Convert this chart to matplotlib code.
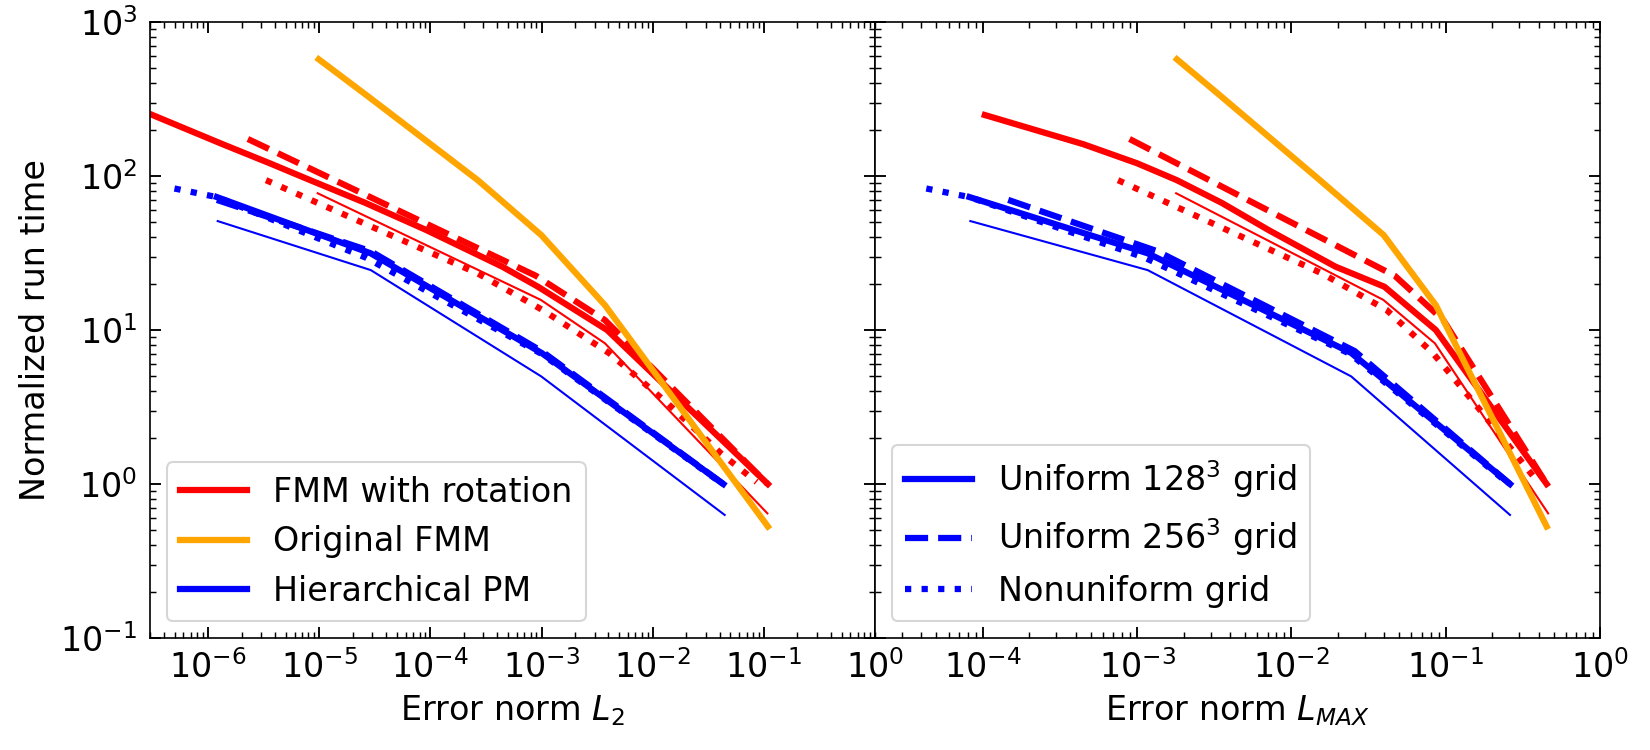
import matplotlib
matplotlib.use("Agg")
import matplotlib.pyplot as plt

plt.rcParams['font.family'] = ['DejaVu Sans']
plt.rcParams['font.size'] = 16

# ---------------- data ----------------
# FMM with rotation, uniform 128^3 (thick solid red)
fmm_rot_u128_y = [249, 161, 121, 94, 67, 44.6, 25.8, 19.1, 10.0, 1.0]
fmm_rot_u128_l2 = [3.16e-7, 1.35e-6, 3.59e-6, 8.3e-6, 2.59e-5, 9.18e-5, 4.43e-4, 9.3e-4, 3.89e-3, 0.1087]
fmm_rot_u128_lmax = [1.03e-4, 4.48e-4, 1.0e-3, 1.81e-3, 3.53e-3, 7.11e-3, 1.93e-2, 4.01e-2, 8.63e-2, 0.451]

# FMM with rotation, uniform 256^3 (thick dashed red)
fmm_rot_u256_y = [174, 22.5, 11.6, 1.0]
fmm_rot_u256_l2 = [2.28e-6, 8.9e-4, 3.72e-3, 0.108]
fmm_rot_u256_lmax = [8.93e-4, 4.68e-2, 9.64e-2, 0.451]

# FMM with rotation, nonuniform grid (thick dotted red)
fmm_rot_nu_y = [94, 23.3, 13.5, 7.06, 3.34, 1.58, 1.03]
fmm_rot_nu_l2 = [3.32e-6, 2.67e-4, 1.02e-3, 4.08e-3, 1.36e-2, 4.12e-2, 8.61e-2]
fmm_rot_nu_lmax = [7.52e-4, 1.58e-2, 4.14e-2, 8.28e-2, 0.154, 0.281, 0.396]

# FMM with rotation, thin red
fmm_rot_thin_y = [77.3, 15.7, 8.2, 0.645]
fmm_rot_thin_l2 = [9.68e-6, 9.84e-4, 3.72e-3, 0.1076]
fmm_rot_thin_lmax = [1.79e-3, 3.94e-2, 8.51e-2, 0.461]

# Original FMM (orange)
fmm_orig_y = [573, 327, 94, 41.4, 14.5, 0.53]
fmm_orig_l2 = [9.89e-6, 2.78e-5, 2.67e-4, 9.93e-4, 3.72e-3, 0.1087]
fmm_orig_lmax = [1.81e-3, 3.53e-3, 1.53e-2, 3.96e-2, 8.63e-2, 0.451]

# Hierarchical PM, thin blue
hpm_thin_y = [51, 24.5, 5.0, 0.63]
hpm_thin_l2 = [1.22e-6, 2.91e-5, 9.93e-4, 4.44e-2]
hpm_thin_lmax = [8.3e-5, 1.17e-3, 2.44e-2, 0.261]

# Hierarchical PM, uniform 128^3 (thick solid blue)
hpm_u128_y = [73, 31.5, 7.1, 1.0]
hpm_u128_l2 = [1.2e-6, 2.9e-5, 1.0e-3, 4.32e-2]
hpm_u128_lmax = [8.2e-5, 1.17e-3, 2.44e-2, 0.261]

# Hierarchical PM, uniform 256^3 (thick dashed blue)
hpm_u256_y = [70, 32.5, 7.3, 1.0]
hpm_u256_l2 = [1.2e-6, 2.9e-5, 1.0e-3, 4.32e-2]
hpm_u256_lmax = [1.46e-4, 1.35e-3, 2.57e-2, 0.261]

# Hierarchical PM, nonuniform grid (thick dotted blue)
hpm_nu_y = [83, 73, 29.5, 7.0, 1.0]
hpm_nu_l2 = [4.98e-7, 1.2e-6, 2.63e-5, 1.0e-3, 4.27e-2]
hpm_nu_lmax = [4.3e-5, 8.2e-5, 1.12e-3, 2.4e-2, 0.257]

legend_left = ["FMM with rotation", "Original FMM", "Hierarchical PM"]
legend_right = ["Uniform 128$^3$ grid", "Uniform 256$^3$ grid", "Nonuniform grid"]

# ---------------- figure ----------------
fig = plt.figure(figsize=(11, 5), dpi=150)
axL = fig.add_axes([0.0909, 0.1493, 0.4394, 0.8213])
axR = fig.add_axes([0.5303, 0.1493, 0.4394, 0.8213], sharey=axL)

TH = 3.0
TN = 1.0

def draw(ax, k):
    def X(a, b):
        return a if k == 0 else b
    h1, = ax.plot(X(fmm_rot_u128_l2, fmm_rot_u128_lmax), fmm_rot_u128_y, color='red', lw=TH, ls='-')
    ax.plot(X(fmm_rot_u256_l2, fmm_rot_u256_lmax), fmm_rot_u256_y, color='red', lw=TH, ls='--')
    ax.plot(X(fmm_rot_nu_l2, fmm_rot_nu_lmax), fmm_rot_nu_y, color='red', lw=TH, ls=':')
    ax.plot(X(fmm_rot_thin_l2, fmm_rot_thin_lmax), fmm_rot_thin_y, color='red', lw=TN, ls='-')
    h2, = ax.plot(X(fmm_orig_l2, fmm_orig_lmax), fmm_orig_y, color='orange', lw=TH, ls='-')
    ax.plot(X(hpm_thin_l2, hpm_thin_lmax), hpm_thin_y, color='blue', lw=TN, ls='-')
    h3, = ax.plot(X(hpm_u128_l2, hpm_u128_lmax), hpm_u128_y, color='blue', lw=TH, ls='-')
    h4, = ax.plot(X(hpm_u256_l2, hpm_u256_lmax), hpm_u256_y, color='blue', lw=TH, ls='--')
    h5, = ax.plot(X(hpm_nu_l2, hpm_nu_lmax), hpm_nu_y, color='blue', lw=TH, ls=':')
    return h1, h2, h3, h4, h5

hl = draw(axL, 0)
hr = draw(axR, 1)

for ax in (axL, axR):
    ax.set_xscale('log')
    ax.set_yscale('log')
    ax.tick_params(which='both', direction='in', top=True, right=True)
    ax.tick_params(which='major', length=5.5, width=0.9, labelsize=16, pad=6)
    ax.tick_params(which='minor', length=3.0, width=0.7)

axL.set_xlim(3e-7, 1)
axR.set_xlim(2e-5, 1)
axL.set_ylim(0.1, 1000)
axR.tick_params(labelleft=False)

axL.set_ylabel("Normalized run time", fontsize=16)
axL.set_xlabel("Error norm $L_2$", fontsize=16)
axR.set_xlabel("Error norm $L_{MAX}$", fontsize=16)

axL.legend([hl[0], hl[1], hl[2]], legend_left, loc='lower left', fontsize=16)
axR.legend([hr[2], hr[3], hr[4]], legend_right, loc='lower left', fontsize=16)

fig.savefig("out.png", dpi=150)
